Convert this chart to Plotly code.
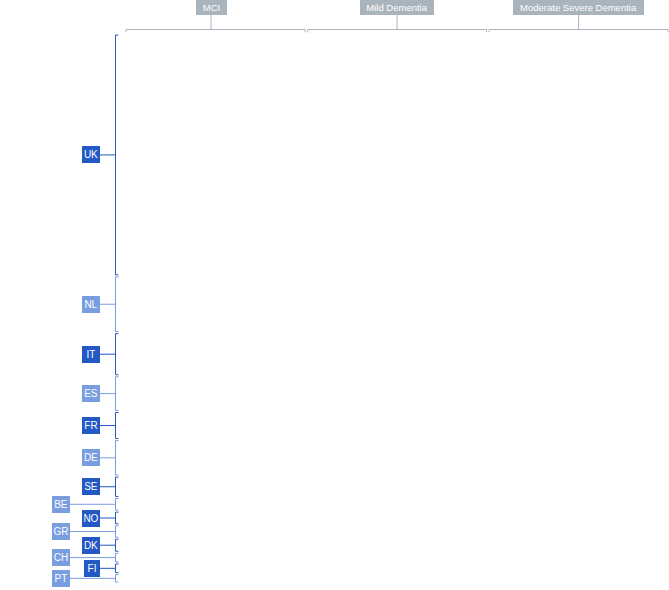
import plotly.graph_objects as go

# ---------------- data ----------------
countries = ["UK", "NL", "IT", "ES", "FR", "DE", "SE", "BE", "NO", "GR", "DK", "CH", "FI", "PT"]
participants = [2413, 567, 430, 357, 280, 364, 213, 137, 137, 133, 140, 107, 107, 93]
stages = ["MCI", "Mild Dementia", "Moderate Severe Dementia"]
stage_share = [1, 1, 1]

# ---------------- style / layout constants ----------------
W, H = 669, 590
DARK = "#2358c5"
LIGHT = "#799ee0"
GREY = "#a9b4bd"
FONT = "Liberation Sans"

x0_px, col_px = 124.8, 181.5          # where the stage axis starts, px per stage unit
y0_px, y1_px = 34.0, 583.0            # where the country axis starts / ends
T = sum(participants)
ky = (y1_px - y0_px) / T
kx = col_px


def px2x(p):
    return (p - x0_px) / kx


def px2y(p):
    return (p - y0_px) / ky


pad_y = 1.0 / ky
pad_x = 1.3 / kx

row_line_px = 115.5
row_tick_px = 118.5
label_near_px = 100
label_far_px = 70
small_limit = 150

col_line_px = 29.5
col_tick_px = 32.3
header_bottom_px = 14.7
header_box_w = [31, 74, 131]
header_shift_px = [-4.5, 0, 0]

fig = go.Figure()
annotations = []

# ---------------- country brackets ----------------
xs = {DARK: [], LIGHT: []}
ys = {DARK: [], LIGHT: []}
cum = 0
for i, (c, v) in enumerate(zip(countries, participants)):
    s, e = cum, cum + v
    cum = e
    col = DARK if i % 2 == 0 else LIGHT
    top, bot, mid = s + pad_y, e - pad_y, (s + e) / 2
    xl, xt = px2x(row_line_px), px2x(row_tick_px)
    far = (col == LIGHT) and (v < small_limit)
    lab_px = label_far_px if far else label_near_px
    xs[col] += [xt, xl, xl, xt, None, px2x(lab_px), xl, None]
    ys[col] += [top, top, bot, bot, None, mid, mid, None]
    annotations.append(dict(
        x=px2x(lab_px), y=mid, xref="x", yref="y", xanchor="right", yanchor="middle",
        text=c, showarrow=False, bgcolor=col, borderpad=0, borderwidth=0,
        width=16 if c == "FI" else 18, height=17,
        font=dict(family=FONT, size=10, color="white"),
    ))

for col in (DARK, LIGHT):
    fig.add_trace(go.Scatter(x=xs[col], y=ys[col], mode="lines",
                             line=dict(color=col, width=1), hoverinfo="skip"))

# ---------------- stage brackets ----------------
gx, gy = [], []
cum = 0
for j, (st, sh) in enumerate(zip(stages, stage_share)):
    l, r = cum + pad_x, cum + sh - pad_x
    c = cum + sh / 2 + header_shift_px[j] / kx
    cum += sh
    yb, yt, ys_ = px2y(col_line_px), px2y(col_tick_px), px2y(header_bottom_px)
    gx += [l, l, r, r, None, c, c, None]
    gy += [yt, yb, yb, yt, None, yb, ys_, None]
    annotations.append(dict(
        x=c, y=px2y(0), xref="x", yref="y", xanchor="center", yanchor="top",
        text=st, showarrow=False, bgcolor=GREY, borderpad=0, borderwidth=0,
        width=header_box_w[j], height=14.7,
        font=dict(family=FONT, size=9.5, color="white"),
    ))

fig.add_trace(go.Scatter(x=gx, y=gy, mode="lines",
                         line=dict(color=GREY, width=1), hoverinfo="skip"))

fig.update_layout(
    width=W, height=H, margin=dict(l=0, r=0, t=0, b=0),
    paper_bgcolor="white", plot_bgcolor="white", showlegend=False,
    xaxis=dict(range=[px2x(0), px2x(W)], visible=False, fixedrange=True),
    yaxis=dict(range=[px2y(H), px2y(0)], visible=False, fixedrange=True),
    annotations=annotations,
)

fig.write_html("out.html", config={"displayModeBar": False},
               post_script="document.body.style.margin='0';document.body.style.overflow='hidden';")
